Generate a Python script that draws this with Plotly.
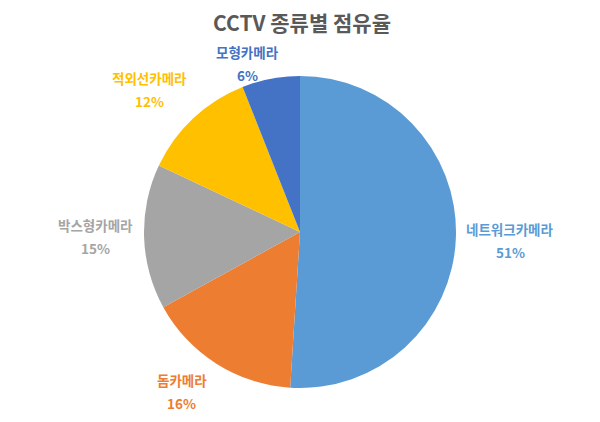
import math
import plotly.graph_objects as go

categories = ["네트워크카메라", "돔카메라", "박스형카메라", "적외선카메라", "모형카메라"]
shares = [51, 16, 15, 12, 6]
colors = ["#5B9BD5", "#ED7D31", "#A5A5A5", "#FFC000", "#4472C4"]
title_text = "CCTV 종류별 점유율"

# page body margin of the browser is 8px; figure drawn at 592x414 so it fits the 600x422 window
OFF = 8
W, H = 592, 414
CX, CY, R = 300 - OFF, 232 - OFF, 156
# (radius factor, angle offset in degrees) for each outside label
label_place = {"네트워크카메라": (1.35, 0.5), "돔카메라": (1.27, 4.2), "박스형카메라": (1.31, 0.5),
               "적외선카메라": (1.33, -3.3), "모형카메라": (1.13, -6.5)}
FONT = "Noto Sans CJK KR"

fig = go.Figure(go.Pie(
    labels=categories, values=shares, sort=False, direction="clockwise", rotation=0,
    marker=dict(colors=colors, line=dict(width=0)),
    textinfo="none", hoverinfo="none", showlegend=False,
    domain=dict(x=[(CX - R) / W, (CX + R) / W], y=[1 - (CY + R) / H, 1 - (CY - R) / H]),
))

total = sum(shares)
cum = 0
annotations = [dict(
    x=(302 - OFF) / W, y=1 - (22 - OFF) / H, xref="paper", yref="paper",
    text=f"<b>{title_text}</b>", showarrow=False, xanchor="center", yanchor="middle",
    font=dict(family=FONT, size=21, color="#595959"),
)]
for name, v, c in zip(categories, shares, colors):
    rf, da = label_place[name]
    mid = (cum + v / 2) / total * 2 * math.pi + math.radians(da)
    cum += v
    rr = R * rf
    px = CX + rr * math.sin(mid)
    py = CY - rr * math.cos(mid)
    for txt, dy in ((name, -11.5), (f"{v}%", 11.5)):
        annotations.append(dict(
            x=px / W, y=1 - (py + dy) / H, xref="paper", yref="paper",
            text=f"<b>{txt}</b>", showarrow=False, xanchor="center", yanchor="middle",
            font=dict(family=FONT, size=13.5, color=c),
        ))

fig.update_layout(
    width=W, height=H, paper_bgcolor="white", plot_bgcolor="white",
    margin=dict(l=0, r=0, t=0, b=0),
    annotations=annotations,
)
fig.write_html("out.html")
